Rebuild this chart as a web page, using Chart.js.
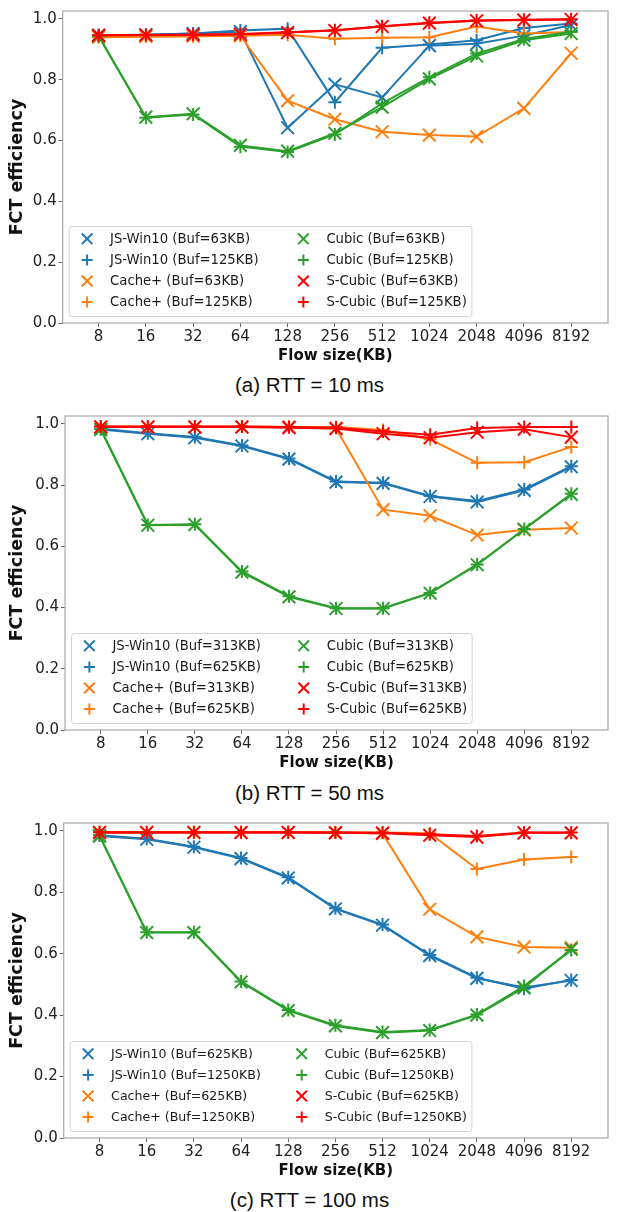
<!DOCTYPE html>
<html>
<head>
<meta charset="utf-8">
<script src="https://cdn.jsdelivr.net/npm/chart.js@4.4.1/dist/chart.umd.min.js"></script>
<style>
  html, body { margin: 0; padding: 0; background: #fff; }
  body { width: 619px; height: 1212px; position: relative; overflow: hidden; }
  canvas { position: absolute; left: 0; }
  .caption {
    position: absolute; left: 0; width: 619px; text-align: center;
    font-family: "Liberation Sans", Arial, sans-serif; font-size: 20.5px; color: #111;
    line-height: 22px; height: 22px; margin-top: -11px;
  }
</style>
</head>
<body>
<canvas id="chart-a" width="619" height="366"></canvas>
<div class="caption" id="cap-a"></div>
<canvas id="chart-b" width="619" height="367"></canvas>
<div class="caption" id="cap-b"></div>
<canvas id="chart-c" width="619" height="367"></canvas>
<div class="caption" id="cap-c"></div>
<script>
// ---- data ----
const FLOW_SIZES = ["8", "16", "32", "64", "128", "256", "512", "1024", "2048", "4096", "8192"];
const Y_TICKS = [0, 0.2, 0.4, 0.6, 0.8, 1.0];
const SCHEMES = ["JS-Win10", "Cache+", "Cubic", "S-Cubic"];

// (a) RTT = 10 ms
const A_BUFS = ["63KB", "125KB"];
const A_JSWIN_63 = [0.946, 0.948, 0.952, 0.958, 0.642, 0.785, 0.742, 0.912, 0.918, 0.945, 0.980];
const A_JSWIN_125 = [0.946, 0.948, 0.952, 0.962, 0.968, 0.726, 0.905, 0.916, 0.930, 0.970, 0.985];
const A_CACHE_63 = [0.940, 0.942, 0.943, 0.945, 0.731, 0.670, 0.629, 0.618, 0.613, 0.706, 0.887];
const A_CACHE_125 = [0.940, 0.942, 0.943, 0.945, 0.948, 0.935, 0.938, 0.940, 0.975, 0.952, 0.957];
const A_CUBIC_63 = [0.944, 0.677, 0.688, 0.584, 0.565, 0.624, 0.710, 0.803, 0.878, 0.930, 0.952];
const A_CUBIC_125 = [0.944, 0.675, 0.686, 0.580, 0.562, 0.620, 0.722, 0.808, 0.886, 0.934, 0.958];
const A_SCUBIC_63 = [0.946, 0.947, 0.948, 0.949, 0.955, 0.962, 0.975, 0.986, 0.994, 0.996, 0.998];
const A_SCUBIC_125 = [0.946, 0.947, 0.948, 0.950, 0.956, 0.963, 0.976, 0.987, 0.995, 0.997, 0.999];

// (b) RTT = 50 ms
const B_BUFS = ["313KB", "625KB"];
const B_JSWIN_313 = [0.982, 0.968, 0.955, 0.928, 0.885, 0.810, 0.806, 0.763, 0.745, 0.783, 0.860];
const B_JSWIN_625 = [0.984, 0.970, 0.957, 0.930, 0.887, 0.812, 0.808, 0.765, 0.748, 0.786, 0.862];
const B_CACHE_313 = [0.990, 0.990, 0.990, 0.990, 0.990, 0.985, 0.720, 0.700, 0.637, 0.654, 0.660];
const B_CACHE_625 = [0.992, 0.992, 0.992, 0.992, 0.990, 0.990, 0.980, 0.950, 0.873, 0.875, 0.925];
const B_CUBIC_313 = [0.982, 0.669, 0.671, 0.516, 0.435, 0.397, 0.397, 0.447, 0.540, 0.656, 0.770];
const B_CUBIC_625 = [0.983, 0.670, 0.672, 0.518, 0.437, 0.398, 0.398, 0.448, 0.541, 0.657, 0.772];
const B_SCUBIC_313 = [0.990, 0.990, 0.990, 0.990, 0.988, 0.985, 0.968, 0.955, 0.973, 0.983, 0.957];
const B_SCUBIC_625 = [0.992, 0.992, 0.992, 0.992, 0.990, 0.988, 0.975, 0.965, 0.987, 0.990, 0.990];

// (c) RTT = 100 ms
const C_BUFS = ["625KB", "1250KB"];
const C_JSWIN_625 = [0.984, 0.973, 0.947, 0.910, 0.847, 0.746, 0.693, 0.594, 0.520, 0.490, 0.513];
const C_JSWIN_1250 = [0.986, 0.975, 0.949, 0.912, 0.849, 0.748, 0.695, 0.596, 0.522, 0.486, 0.515];
const C_CACHE_625 = [0.995, 0.995, 0.995, 0.995, 0.995, 0.995, 0.992, 0.745, 0.655, 0.622, 0.620];
const C_CACHE_1250 = [0.996, 0.996, 0.996, 0.996, 0.996, 0.996, 0.995, 0.993, 0.876, 0.907, 0.915];
const C_CUBIC_625 = [0.984, 0.669, 0.669, 0.508, 0.415, 0.365, 0.343, 0.350, 0.400, 0.490, 0.615];
const C_CUBIC_1250 = [0.985, 0.670, 0.670, 0.510, 0.417, 0.367, 0.345, 0.352, 0.402, 0.495, 0.612];
const C_SCUBIC_625 = [0.995, 0.995, 0.995, 0.995, 0.995, 0.994, 0.993, 0.986, 0.980, 0.994, 0.994];
const C_SCUBIC_1250 = [0.996, 0.996, 0.996, 0.996, 0.996, 0.995, 0.994, 0.989, 0.984, 0.995, 0.995];

const CAPTIONS = ["(a) RTT = 10 ms", "(b) RTT = 50 ms", "(c) RTT = 100 ms"];

// ---- styling ----
const COLORS = ["#1f77b4", "#ff7f0e", "#2ca02c", "#ff0000"];
const TICK_FONT = { family: '"DejaVu Sans", sans-serif', size: 15 };
const XTITLE_FONT = { family: '"DejaVu Sans", sans-serif', size: 15, weight: "bold" };
const YTITLE_FONT = { family: '"DejaVu Sans", sans-serif', size: 17.5, weight: "bold" };

const framePlugin = {
  id: "frame",
  afterDatasetsDraw(chart) {
    const { ctx, chartArea: a } = chart;
    ctx.save();
    ctx.strokeStyle = "#a9a9a9";
    ctx.lineWidth = 1.2;
    ctx.strokeRect(a.left, a.top, a.right - a.left, a.bottom - a.top);
    ctx.restore();
  },
};

// matplotlib-style legend, two columns, lower left inside the axes
const boxLegend = {
  id: "boxLegend",
  afterDraw(chart, args, opts) {
    const { ctx, chartArea: a } = chart;
    const sets = chart.data.datasets;
    const fs = opts.fontSize || 13.2;
    const handle = 25.6, pad = 5.1, textPad = 10.2, colGap = opts.colGap || 32, rowH = 21.1, boxH = 90;
    ctx.save();
    ctx.font = `${fs}px "DejaVu Sans", sans-serif`;
    const w1 = Math.max(...sets.slice(0, 4).map((d) => ctx.measureText(d.label).width));
    const w2 = Math.max(...sets.slice(4).map((d) => ctx.measureText(d.label).width));
    const boxW = pad + handle + textPad + w1 + colGap + handle + textPad + w2 + pad;
    const x0 = a.left + 6.5;
    const y0 = a.bottom - 6.5 - boxH;
    ctx.beginPath();
    ctx.roundRect(x0, y0, boxW, boxH, 3);
    ctx.fillStyle = "rgba(255,255,255,0.85)";
    ctx.fill();
    ctx.strokeStyle = "#d4d4d4";
    ctx.lineWidth = 1;
    ctx.stroke();
    sets.forEach((d, i) => {
      const col = Math.floor(i / 4), row = i % 4;
      const hx = x0 + pad + (col ? handle + textPad + w1 + colGap : 0);
      const cy = y0 + 12.3 + row * rowH;
      ctx.strokeStyle = d.borderColor;
      ctx.fillStyle = d.borderColor;
      ctx.lineWidth = 2;
      Chart.helpers.drawPoint(ctx, {
        pointStyle: d.pointStyle,
        radius: d.pointStyle === "crossRot" ? 7.5 : 5.5,
        borderWidth: 2,
        rotation: 0,
      }, hx + handle / 2, cy);
      ctx.fillStyle = "#1a1a1a";
      ctx.textBaseline = "middle";
      ctx.textAlign = "left";
      ctx.fillText(d.label, hx + handle + textPad, cy + 0.5);
    });
    ctx.restore();
  },
};

function series(label, values, color, style, idx) {
  return {
    label,
    data: values.map((v, i) => ({ x: i, y: v })),
    borderColor: color,
    backgroundColor: color,
    borderWidth: 2,
    pointStyle: style,
    pointRadius: style === "crossRot" ? 9 : 6.5,
    pointHoverRadius: style === "crossRot" ? 9 : 6.5,
    pointBorderWidth: 2,
    tension: 0,
    fill: false,
    order: 7 - idx,
  };
}

function makePanel(id, capId, caption, bufs, groups, geo) {
  const canvas = document.getElementById(id);
  canvas.style.top = geo.canvasTop + "px";
  canvas.height = geo.bottom - geo.canvasTop + 42;
  const cap = document.getElementById(capId);
  cap.style.top = geo.caption + "px";
  cap.textContent = caption;

  const datasets = [];
  groups.forEach((pair, g) => {
    pair.forEach((vals, b) => {
      const idx = g * 2 + b;
      datasets.push(series(`${SCHEMES[g]} (Buf=${bufs[b]})`, vals, COLORS[g],
        b === 0 ? "crossRot" : "cross", idx));
    });
  });

  return new Chart(canvas.getContext("2d"), {
    type: "line",
    data: { datasets },
    options: {
      responsive: false,
      animation: false,
      layout: { padding: { left: 0, top: geo.top - geo.canvasTop, right: 619 - geo.right, bottom: 0 } },
      scales: {
        x: {
          type: "linear",
          min: -0.76,
          max: 10.78,
          afterBuildTicks: (axis) => { axis.ticks = FLOW_SIZES.map((_, i) => ({ value: i })); },
          afterFit: (scale) => { scale.height = 42; },
          ticks: { callback: (v) => FLOW_SIZES[v], font: TICK_FONT, color: "#222", padding: 1, maxRotation: 0, autoSkip: false },
          grid: { drawOnChartArea: false, drawTicks: true, tickLength: 4, color: "#666" },
          border: { display: false },
          title: { display: true, text: "Flow size(KB)", font: XTITLE_FONT, color: "#111", padding: { top: 0, bottom: 0 } },
        },
        y: {
          min: 0,
          max: 1.026,
          afterBuildTicks: (axis) => { axis.ticks = Y_TICKS.map((v) => ({ value: v })); },
          afterFit: (scale) => { scale.width = geo.left; },
          ticks: { callback: (v) => v.toFixed(1), font: TICK_FONT, color: "#222", padding: 2 },
          grid: { drawOnChartArea: false, drawTicks: true, tickLength: 4, color: "#666" },
          border: { display: false },
          title: { display: true, text: "FCT efficiency", font: YTITLE_FONT, color: "#111", padding: { top: 7, bottom: 0 } },
        },
      },
      plugins: {
        legend: { display: false },
        tooltip: { enabled: false },
        boxLegend: { fontSize: geo.legendFont, colGap: geo.legendGap },
      },
    },
    plugins: [framePlugin, boxLegend],
  });
}

makePanel("chart-a", "cap-a", CAPTIONS[0], A_BUFS, [
  [A_JSWIN_63, A_JSWIN_125], [A_CACHE_63, A_CACHE_125],
  [A_CUBIC_63, A_CUBIC_125], [A_SCUBIC_63, A_SCUBIC_125],
], { canvasTop: 0, top: 6.7, bottom: 323.5, left: 62.7, right: 613.5, caption: 385, legendFont: 13.2, legendGap: 32 });

makePanel("chart-b", "cap-b", CAPTIONS[1], B_BUFS, [
  [B_JSWIN_313, B_JSWIN_625], [B_CACHE_313, B_CACHE_625],
  [B_CUBIC_313, B_CUBIC_625], [B_SCUBIC_313, B_SCUBIC_625],
], { canvasTop: 405, top: 412.7, bottom: 730.7, left: 65, right: 613.5, caption: 793, legendFont: 13.2, legendGap: 30 });

makePanel("chart-c", "cap-c", CAPTIONS[2], C_BUFS, [
  [C_JSWIN_625, C_JSWIN_1250], [C_CACHE_625, C_CACHE_1250],
  [C_CUBIC_625, C_CUBIC_1250], [C_SCUBIC_625, C_SCUBIC_1250],
], { canvasTop: 812, top: 820, bottom: 1138, left: 63.7, right: 613.5, caption: 1200, legendFont: 12.6, legendGap: 28 });
</script>
</body>
</html>
